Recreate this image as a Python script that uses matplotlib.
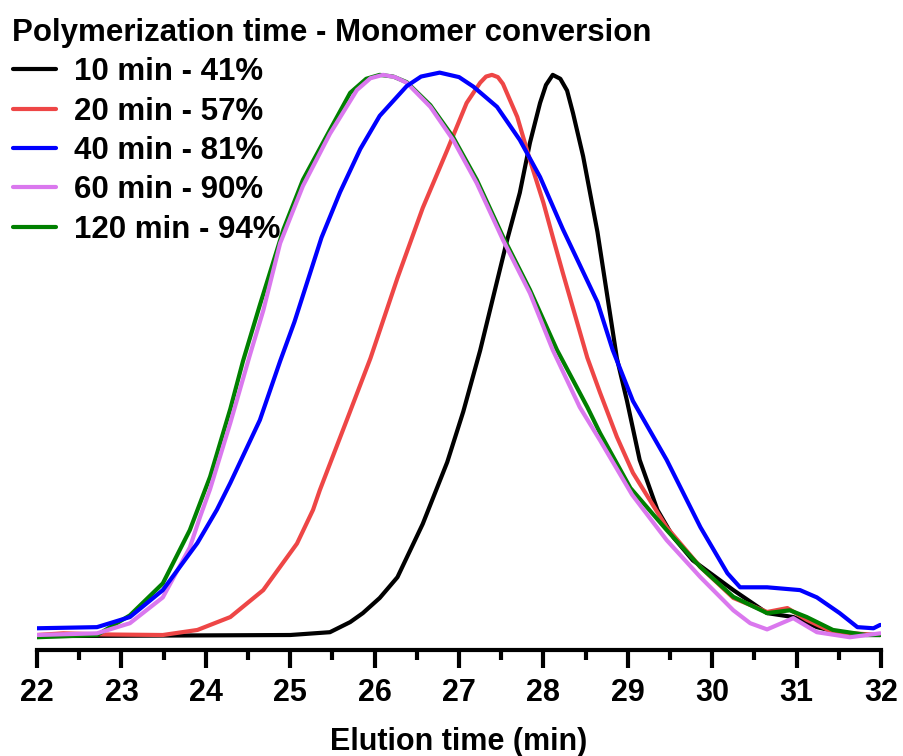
import matplotlib
matplotlib.use("Agg")
import matplotlib.pyplot as plt
from matplotlib.ticker import MultipleLocator

plt.rcParams['font.family'] = ['Liberation Sans', 'DejaVu Sans']
plt.rcParams['font.weight'] = 'bold'

# elution time (min) / normalised RI signal for each sample
t_10 = [22.0, 25.0, 25.47, 25.71, 25.86, 26.06, 26.27, 26.57, 26.86, 27.05, 27.25, 27.57, 27.72,
        27.84, 27.96, 28.03, 28.11, 28.20, 28.28, 28.35, 28.47, 28.64, 28.87, 28.99, 29.14, 29.35,
        29.54, 29.77, 30.25, 30.65, 30.96, 31.24, 31.63, 31.99]
s_10 = [0.0, 0.002, 0.007, 0.025, 0.041, 0.068, 0.105, 0.200, 0.310, 0.400, 0.509, 0.706, 0.790,
        0.879, 0.950, 0.982, 1.0, 0.993, 0.972, 0.932, 0.855, 0.720, 0.495, 0.419, 0.314, 0.225,
        0.176, 0.135, 0.082, 0.041, 0.034, 0.016, 0.002, 0.002]

t_20 = [22.0, 22.31, 22.8, 23.49, 23.90, 24.29, 24.68, 25.08, 25.27, 25.35, 25.67, 25.95, 26.27,
        26.57, 26.86, 27.09, 27.25, 27.32, 27.39, 27.46, 27.52, 27.69, 27.84, 28.00, 28.12, 28.23,
        28.52, 28.67, 28.87, 29.06, 29.46, 29.86, 30.25, 30.65, 30.89, 31.12, 31.43, 31.99]
s_20 = [0.002, 0.005, 0.003, 0.002, 0.011, 0.034, 0.082, 0.165, 0.225, 0.260, 0.385, 0.495, 0.638,
        0.763, 0.866, 0.950, 0.986, 0.997, 1.0, 0.996, 0.984, 0.925, 0.848, 0.772, 0.706, 0.647,
        0.496, 0.434, 0.355, 0.291, 0.194, 0.123, 0.068, 0.043, 0.050, 0.029, 0.007, 0.002]

t_40 = [22.0, 22.71, 23.10, 23.49, 23.90, 24.13, 24.29, 24.64, 24.88, 25.05, 25.37, 25.59, 25.83, 26.06,
        26.38, 26.55, 26.77, 27.00, 27.17, 27.45, 27.72, 27.96, 28.23, 28.64, 28.82, 29.06, 29.46,
        29.86, 30.18, 30.33, 30.65, 31.04, 31.24, 31.51, 31.72, 31.91, 31.99]
s_40 = [0.014, 0.016, 0.034, 0.082, 0.166, 0.225, 0.273, 0.385, 0.490, 0.560, 0.710, 0.791, 0.868, 0.927,
        0.980, 0.997, 1.004, 0.996, 0.979, 0.943, 0.884, 0.818, 0.725, 0.595, 0.510, 0.419, 0.314,
        0.194, 0.112, 0.087, 0.087, 0.082, 0.069, 0.041, 0.016, 0.014, 0.020]

t_60 = [22.0, 22.71, 23.10, 23.49, 23.81, 23.93, 24.05, 24.29, 24.52, 24.68, 24.88, 25.15, 25.47, 25.79,
        25.95, 26.10, 26.24, 26.38, 26.66, 26.93, 27.21, 27.52, 27.84, 28.11, 28.43, 28.67, 29.05,
        29.46, 29.86, 30.25, 30.45, 30.65, 30.96, 31.24, 31.63, 31.99]
s_60 = [0.002, 0.005, 0.023, 0.069, 0.158, 0.212, 0.262, 0.380, 0.500, 0.580, 0.700, 0.802, 0.895, 0.973,
        0.994, 1.0, 0.996, 0.986, 0.943, 0.884, 0.807, 0.706, 0.611, 0.510, 0.408, 0.349, 0.252,
        0.171, 0.105, 0.046, 0.023, 0.012, 0.032, 0.007, -0.002, 0.005]

t_120 = [22.0, 22.71, 23.10, 23.49, 23.81, 24.05, 24.29, 24.44, 24.64, 24.92, 25.15, 25.47, 25.71,
         25.90, 26.06, 26.22, 26.38, 26.66, 26.93, 27.21, 27.52, 27.84, 28.16, 28.52, 28.67, 29.03,
         29.46, 29.86, 30.25, 30.65, 30.92, 31.12, 31.43, 31.83, 31.99]
s_120 = [-0.002, 0.002, 0.037, 0.094, 0.189, 0.284, 0.405, 0.490, 0.590, 0.725, 0.813, 0.902, 0.968,
         0.993, 1.0, 0.997, 0.987, 0.946, 0.889, 0.813, 0.712, 0.617, 0.510, 0.408, 0.362, 0.264,
         0.189, 0.123, 0.070, 0.041, 0.046, 0.034, 0.011, 0.002, 0.002]

labels = ["10 min - 41%", "20 min - 57%", "40 min - 81%", "60 min - 90%", "120 min - 94%"]
colors = ["#000000", "#EE4646", "#0000FF", "#DA78EE", "#008000"]

fig = plt.figure(figsize=(9.04, 7.56), dpi=100)
ax = fig.add_axes([0.041, 0.140, 0.9336, 0.807])

kw = dict(linewidth=3.0, solid_joinstyle='round', solid_capstyle='round')
h10, = ax.plot(t_10, s_10, color=colors[0], label=labels[0], **kw)
h20, = ax.plot(t_20, s_20, color=colors[1], label=labels[1], **kw)
h120, = ax.plot(t_120, s_120, color=colors[4], label=labels[4], **kw)
h60, = ax.plot(t_60, s_60, color=colors[3], label=labels[3], **kw)
h40, = ax.plot(t_40, s_40, color=colors[2], label=labels[2], **kw)

ax.set_xlim(22, 32)
ax.set_ylim(-0.025, 1.062)

for side in ['top', 'right', 'left']:
    ax.spines[side].set_visible(False)
ax.spines['bottom'].set_linewidth(3)
ax.set_yticks([])

ax.xaxis.set_major_locator(MultipleLocator(1))
ax.xaxis.set_minor_locator(MultipleLocator(0.5))
ax.tick_params(axis='x', which='major', direction='out', length=13, width=3, pad=7, labelsize=22)
ax.tick_params(axis='x', which='minor', direction='out', length=7, width=3)

ax.set_xlabel("Elution time (min)", fontsize=22, fontweight='bold', labelpad=14)

leg = fig.legend(handles=[h10, h20, h40, h60, h120], title="Polymerization time - Monomer conversion",
                 loc='upper left', bbox_to_anchor=(0.0, 0.993), frameon=False,
                 prop={'size': 22.5, 'weight': 'bold'},
                 title_fontproperties={'size': 22.5, 'weight': 'bold'},
                 alignment='left', handlelength=1.38, handletextpad=0.58, labelspacing=0.3,
                 borderaxespad=0)

fig.savefig("out.png", dpi=100)
